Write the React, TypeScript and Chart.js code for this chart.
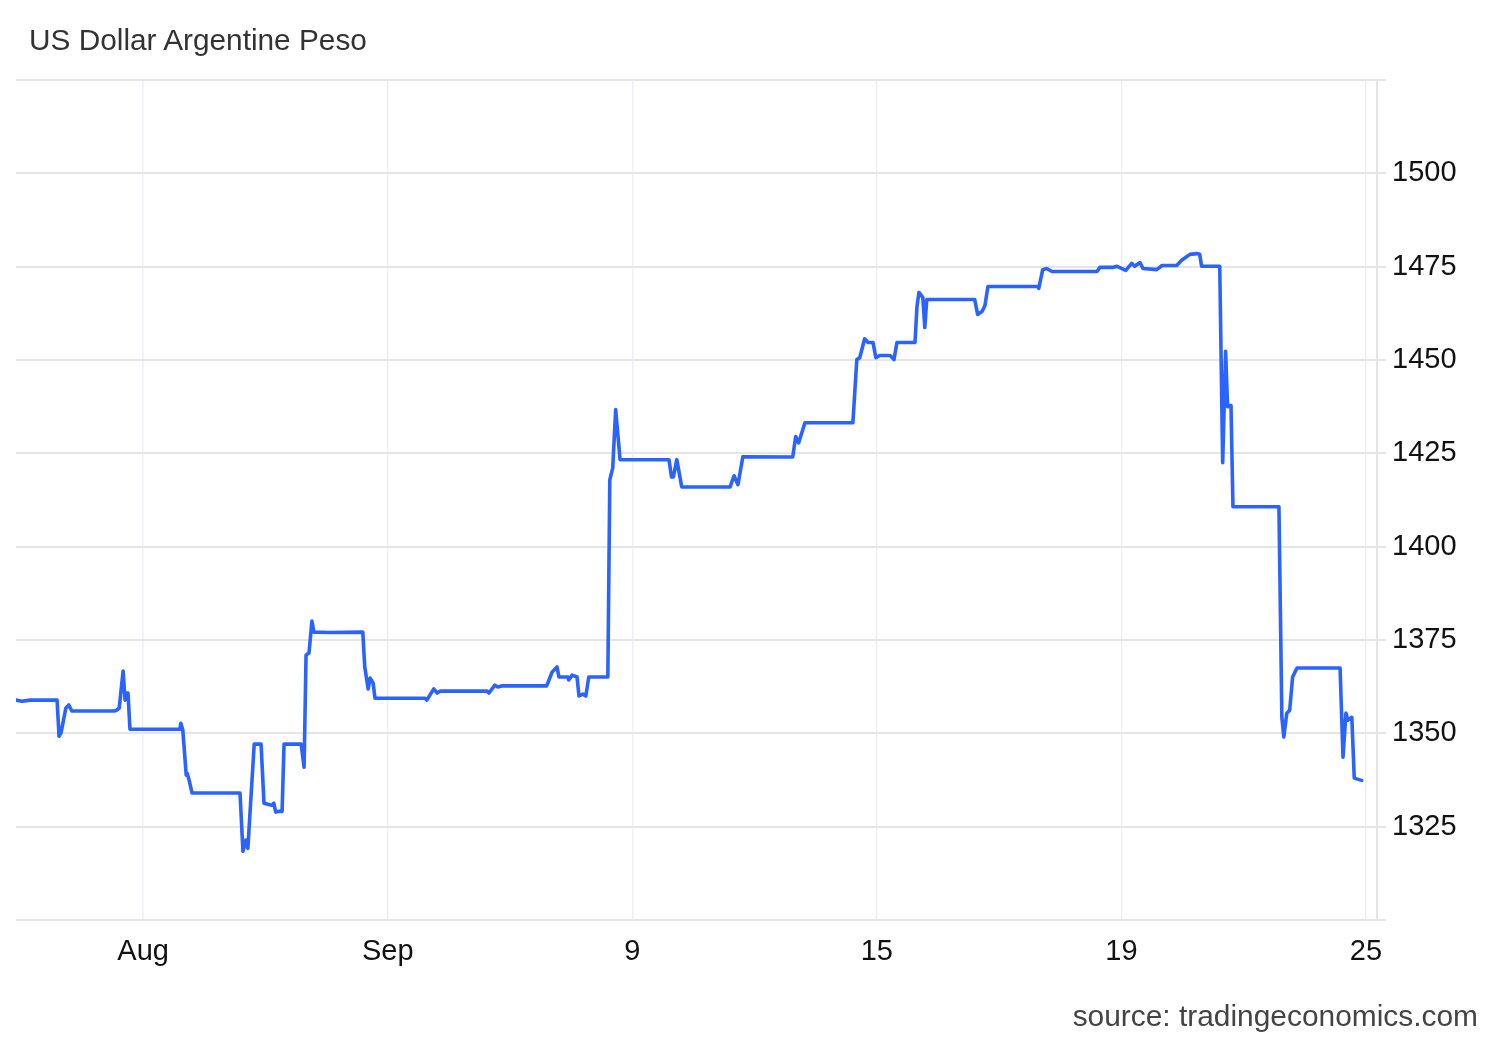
import React, { useEffect, useRef } from 'react';
import { Chart, registerables } from 'chart.js';

Chart.register(...registerables);

// x position in trading-session units (each labelled tick is 50 units apart)
const sessionIndex = [
  0, 1.2, 2.9, 8.4, 8.8, 9.2, 10.2, 10.8, 11.4, 20.2, 20.6, 21.1, 21.9, 22.3, 22.7, 22.9, 23.3,
  33.5, 33.7, 34.1, 34.8, 35.0, 35.4, 36.0, 45.8, 46.4, 47.0, 47.4, 48.7, 50.1, 50.7, 51.5, 52.3,
  52.7, 53.1, 53.8, 54.4, 54.8, 58.3, 58.9, 59.3, 59.9, 60.5, 60.9, 64.2, 70.9, 71.3, 72.0, 72.4,
  73.0, 73.4, 83.6, 84.0, 85.4, 86.1, 86.7, 96.3, 96.7, 97.9, 98.5, 99.3, 108.5, 109.6, 110.6,
  111.0, 112.8, 113.0, 113.7, 114.7, 115.1, 115.9, 116.5, 117.1, 121.0, 121.4, 122.0, 122.6, 123.5,
  133.5, 134.0, 134.4, 135.1, 136.1, 146.0, 146.8, 147.6, 148.6, 158.8, 159.4, 160.0, 161.3,
  171.1, 171.9, 172.5, 173.5, 174.2, 175.2, 175.8, 176.6, 178.7, 179.5, 180.1, 183.8, 184.2,
  184.6, 185.4, 185.8, 186.2, 196.0, 196.6, 197.5, 198.1, 198.7, 208.9, 209.1, 209.9, 210.7,
  211.8, 221.0, 221.6, 224.2, 225.1, 226.9, 228.1, 228.7, 229.8, 230.4, 233.2, 234.3, 237.3,
  238.3, 240.0, 241.4, 242.0, 242.4, 246.1, 246.7, 247.3, 247.7, 248.4, 248.8, 258.2, 258.8,
  259.2, 259.8, 260.4, 261.0, 261.9, 270.7, 271.3, 271.9, 272.3, 273.1, 273.6, 275.1,
];

const usdArs = [
  1358.9, 1358.6, 1358.9, 1358.9, 1349.2, 1350.1, 1356.8, 1357.6, 1356.0, 1356.0, 1356.2, 1356.8,
  1366.7, 1358.9, 1360.8, 1360.8, 1351.1, 1351.1, 1352.7, 1350.9, 1338.8, 1339.3, 1337.4, 1334.0,
  1334.0, 1318.4, 1321.4, 1319.2, 1347.1, 1347.1, 1331.3, 1331.0, 1330.7, 1331.3, 1328.9, 1329.1,
  1329.1, 1347.1, 1347.1, 1340.9, 1371.0, 1371.5, 1380.1, 1377.1, 1377.0, 1377.1, 1367.8, 1361.9,
  1364.8, 1363.5, 1359.4, 1359.4, 1358.9, 1361.9, 1360.8, 1361.3, 1361.3, 1360.8, 1362.9, 1362.4,
  1362.7, 1362.7, 1366.4, 1367.8, 1365.1, 1365.1, 1364.3, 1365.6, 1365.1, 1360.0, 1360.5, 1360.0,
  1365.1, 1365.1, 1417.9, 1421.1, 1436.7, 1423.3, 1423.3, 1418.7, 1418.7, 1423.3, 1416.0, 1416.0,
  1419.0, 1416.6, 1424.1, 1424.0, 1429.5, 1427.8, 1433.2, 1433.2, 1450.1, 1450.6, 1455.7, 1454.7,
  1454.7, 1450.6, 1451.2, 1451.2, 1450.1, 1454.7, 1454.7, 1464.3, 1468.1, 1466.7, 1458.7, 1466.2,
  1466.2, 1462.2, 1463.0, 1464.6, 1469.7, 1469.7, 1469.2, 1474.2, 1474.5, 1473.7, 1473.7, 1474.8,
  1474.8, 1475.1, 1474.0, 1475.9, 1475.1, 1476.1, 1474.5, 1474.2, 1475.3, 1475.3, 1476.7, 1478.3,
  1478.5, 1478.3, 1475.1, 1475.1, 1422.5, 1452.3, 1437.5, 1437.8, 1410.7, 1410.7, 1354.3, 1349.0,
  1355.4, 1356.2, 1365.1, 1367.5, 1367.5, 1343.6, 1355.4, 1353.5, 1354.3, 1338.0, 1337.4,
];

const xTickPositions = [26, 76, 126, 176, 226, 276];
const xTickLabels = ['Aug', 'Sep', '9', '15', '19', '25'];
const yTickValues = [1300, 1325, 1350, 1375, 1400, 1425, 1450, 1475, 1500, 1525];
const yTickLabels = ['', '1325', '1350', '1375', '1400', '1425', '1450', '1475', '1500', ''];

const FONT = 'Arial, "Liberation Sans", Helvetica, sans-serif';

export default function App() {
  const canvasRef = useRef<HTMLCanvasElement | null>(null);

  useEffect(() => {
    const canvas = canvasRef.current;
    if (!canvas) return;
    const chart = new Chart(canvas, {
      type: 'line',
      data: {
        datasets: [
          {
            label: 'USDARS',
            data: sessionIndex.map((x, i) => ({ x, y: usdArs[i] })),
            borderColor: '#2b63ff',
            borderWidth: 3.6,
            borderJoinStyle: 'round',
            borderCapStyle: 'round',
            pointRadius: 0,
            tension: 0,
            fill: false,
          },
        ],
      },
      options: {
        animation: false,
        responsive: false,
        devicePixelRatio: 1,
        layout: { padding: { left: 16, top: 80, right: 0, bottom: 0 } },
        plugins: {
          legend: { display: false },
          title: { display: false },
          tooltip: { enabled: false },
        },
        scales: {
          x: {
            type: 'linear',
            min: 0,
            max: 278.25,
            afterBuildTicks: (s: any) => {
              s.ticks = xTickPositions.map((v) => ({ value: v }));
            },
            afterFit: (s: any) => {
              s.height = 120;
            },
            ticks: {
              autoSkip: false,
              maxRotation: 0,
              padding: 15,
              color: '#111',
              font: { size: 29, family: FONT },
              callback: (v: any) => {
                const i = xTickPositions.indexOf(Number(v));
                return i >= 0 ? xTickLabels[i] : '';
              },
            },
            grid: { color: '#edf1f6', lineWidth: 1.5, drawTicks: false },
            border: { display: false },
          },
          y: {
            type: 'linear',
            position: 'right',
            min: 1300,
            max: 1525,
            afterBuildTicks: (s: any) => {
              s.ticks = yTickValues.map((v) => ({ value: v }));
            },
            afterFit: (s: any) => {
              s.width = 123;
            },
            ticks: {
              padding: 6,
              color: '#111',
              font: { size: 29, family: FONT },
              callback: (v: any) => {
                const i = yTickValues.indexOf(Number(v));
                return i >= 0 ? yTickLabels[i] : '';
              },
            },
            grid: { color: '#e6e6e6', lineWidth: 2, tickLength: 9 },
            border: { display: true, color: '#e6e6e6', width: 2 },
          },
        },
      },
    });
    return () => chart.destroy();
  }, []);

  return (
    <div
      style={{
        position: 'fixed',
        left: 0,
        top: 0,
        width: 1500,
        height: 1040,
        background: '#ffffff',
        fontFamily: FONT,
      }}
    >
      <canvas ref={canvasRef} width={1500} height={1040} style={{ position: 'absolute', left: 0, top: 0 }} />
      <div
        style={{
          position: 'absolute',
          left: 29,
          top: 25,
          fontSize: 29.8,
          lineHeight: '29.8px',
          color: '#333333',
          whiteSpace: 'nowrap',
        }}
      >
        US Dollar Argentine Peso
      </div>
      <div
        style={{
          position: 'absolute',
          right: 22,
          top: 1001,
          fontSize: 29.9,
          lineHeight: '29.9px',
          color: '#444444',
          whiteSpace: 'nowrap',
        }}
      >
        source: tradingeconomics.com
      </div>
    </div>
  );
}
